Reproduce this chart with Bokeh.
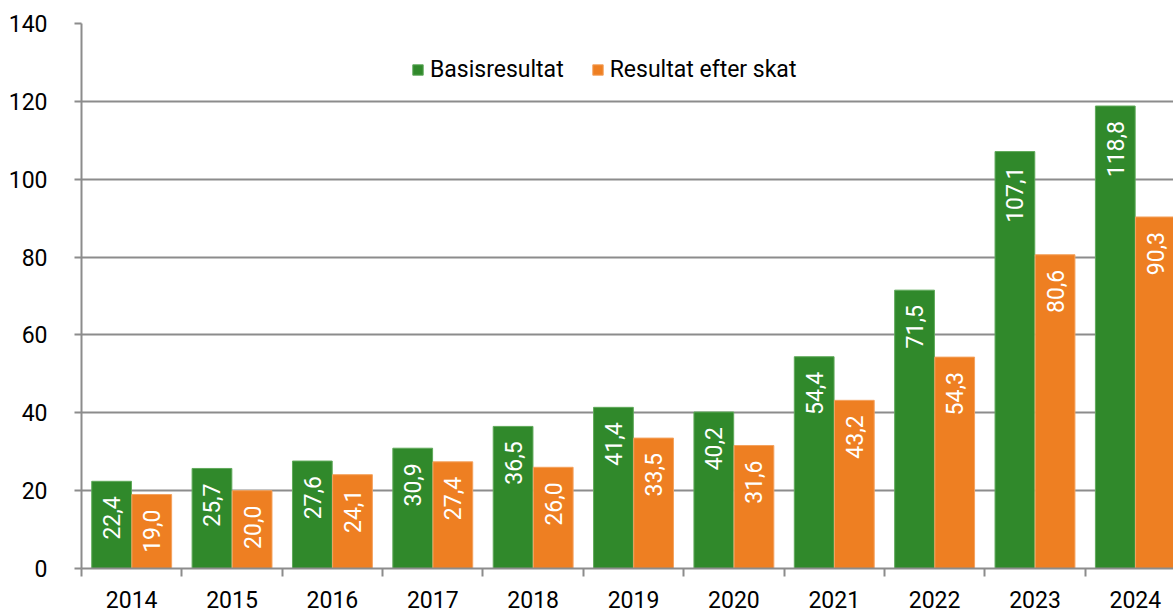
import math
from bokeh.plotting import figure
from bokeh.models import (Range1d, FixedTicker, ColumnDataSource, Legend, LegendItem)
from bokeh.core.properties import value
from bokeh.embed import file_html
from bokeh.resources import INLINE

years = ["2014", "2015", "2016", "2017", "2018", "2019", "2020", "2021", "2022", "2023", "2024"]
basis = [22.4, 25.7, 27.6, 30.9, 36.5, 41.4, 40.2, 54.4, 71.5, 107.1, 118.8]
efter_skat = [19.0, 20.0, 24.1, 27.4, 26.0, 33.5, 31.6, 43.2, 54.3, 80.6, 90.3]
series_names = ["Basisresultat", "Resultat efter skat"]
y_ticks = [0, 20, 40, 60, 80, 100, 120, 140]

GREEN = "#30892b"
ORANGE = "#ee7f22"
GRAY = "#8c8c8c"
FONT = "Roboto"

def fmt(v):
    return f"{v:.1f}".replace(".", ",")

centers = [i + 0.5 for i in range(len(years))]
bounds = [i for i in range(len(years) + 1)]
off = 0.2
bw = 0.396

src_g = ColumnDataSource(dict(x=[c - off for c in centers], top=basis,
                              lab=[fmt(v) for v in basis]))
src_o = ColumnDataSource(dict(x=[c + off for c in centers], top=efter_skat,
                              lab=[fmt(v) for v in efter_skat]))

p = figure(width=1173, height=612, output_backend="svg", toolbar_location=None,
           x_range=Range1d(0, 10.88), y_range=Range1d(0, 140),
           min_border_left=81, min_border_right=0, min_border_top=23, min_border_bottom=44)
p.outline_line_color = None
p.background_fill_color = "white"
p.border_fill_color = "white"

rg = p.vbar(x="x", top="top", width=bw, source=src_g, fill_color=GREEN,
            line_color="#5fa95a", line_width=1)
ro = p.vbar(x="x", top="top", width=bw, source=src_o, fill_color=ORANGE,
            line_color="#f4a25e", line_width=1)

for s in (src_g, src_o):
    p.text(x="x", y="top", text="lab", source=s, angle=math.pi / 2,
           text_align="right", text_baseline="middle", y_offset=15,
           text_color="white", text_font=value(FONT), text_font_size="23px")

# axes
xa = p.xaxis[0]
xa.ticker = FixedTicker(ticks=centers, minor_ticks=bounds)
xa.major_label_overrides = {c: y for c, y in zip(centers, years)}
xa.major_tick_line_color = None
xa.major_tick_out = 0
xa.major_tick_in = 0
xa.minor_tick_line_color = GRAY
xa.minor_tick_line_width = 2
xa.minor_tick_out = 8
xa.minor_tick_in = 0
xa.axis_line_color = GRAY
xa.axis_line_width = 2
xa.major_label_text_font = FONT
xa.major_label_text_font_size = "23px"
xa.major_label_text_color = "black"
xa.major_label_standoff = 14

ya = p.yaxis[0]
ya.ticker = FixedTicker(ticks=y_ticks)
ya.minor_tick_line_color = None
ya.major_tick_line_color = GRAY
ya.major_tick_line_width = 2
ya.major_tick_out = 7
ya.major_tick_in = 0
ya.axis_line_color = GRAY
ya.axis_line_width = 2
ya.major_label_text_font = FONT
ya.major_label_text_font_size = "23px"
ya.major_label_text_color = "black"
ya.major_label_standoff = 27

p.xgrid.grid_line_color = None
p.ygrid.grid_line_color = GRAY
p.ygrid.grid_line_width = 2
p.ygrid.ticker = FixedTicker(ticks=y_ticks)

legend = Legend(items=[LegendItem(label=series_names[0], renderers=[rg]),
                       LegendItem(label=series_names[1], renderers=[ro])],
                orientation="horizontal", location=(330, 485),
                glyph_width=13, glyph_height=13, label_standoff=6, spacing=27,
                padding=0, margin=0, border_line_color=None, background_fill_alpha=0,
                label_text_font=FONT, label_text_font_size="23px", label_text_color="black")
p.add_layout(legend, "center")

open("out.html", "w").write(file_html(p, INLINE))
